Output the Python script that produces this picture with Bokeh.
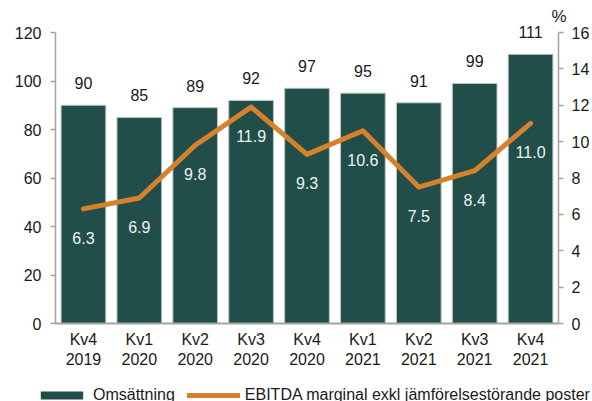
from bokeh.plotting import figure
from bokeh.layouts import column
from bokeh.models import (Range1d, LinearAxis, FactorRange, ColumnDataSource, Legend,
                          LegendItem, Title, FixedTicker)
from bokeh.core.properties import value
from bokeh.embed import file_html
from bokeh.resources import INLINE

quarters = ["Kv4\n2019", "Kv1\n2020", "Kv2\n2020", "Kv3\n2020", "Kv4\n2020",
            "Kv1\n2021", "Kv2\n2021", "Kv3\n2021", "Kv4\n2021"]
revenue = [90, 85, 89, 92, 97, 95, 91, 99, 111]
margin = [6.3, 6.9, 9.8, 11.9, 9.3, 10.6, 7.5, 8.4, 11.0]
rev_ticks = [0, 20, 40, 60, 80, 100, 120]
pct_ticks = [0, 2, 4, 6, 8, 10, 12, 14, 16]
series_names = ["Omsättning", "EBITDA marginal exkl jämförelsestörande poster"]
pct_unit = "%"

FONT = "Liberation Sans"
BAR = "#224E4A"
ORANGE = "#D6812B"
AX = "#a3a3a3"

REV_MAX, PCT_MAX = 120, 16
TOP = 25
HEADROOM = (323 - TOP) / 291  # frame extends above the axis top so labels above it stay visible

src = ColumnDataSource(dict(
    q=quarters, rev=revenue, pct=margin,
    rev_lbl=[str(v) for v in revenue],
    pct_lbl=[f"{v:.1f}" for v in margin],
))

p = figure(x_range=FactorRange(factors=quarters), y_range=Range1d(0, REV_MAX * HEADROOM),
           width=592, height=385, output_backend="svg", toolbar_location=None,
           min_border_left=55, min_border_right=30, min_border_top=TOP, min_border_bottom=62,
           frame_align=False)
p.extra_y_ranges = {"pct": Range1d(0, PCT_MAX * HEADROOM)}
p.xgrid.visible = False
p.ygrid.visible = False
p.outline_line_color = None
p.background_fill_color = "white"

bar_style = dict(fill_color=BAR, line_width=1)
line_style = dict(line_color=ORANGE, line_width=5, line_cap="round", line_join="round")

p.vbar(x="q", top="rev", width=0.8, source=src, line_color="#b9c9c7", **bar_style)
p.line(x="q", y="pct", y_range_name="pct", source=src, **line_style)

p.text(x="q", y="rev", text="rev_lbl", source=src, y_offset=-22, text_align="center",
       text_baseline="middle", text_font=value(FONT), text_font_size="16px",
       text_color="#1a1a1a")
p.text(x="q", y="pct", y_range_name="pct", text="pct_lbl", source=src, y_offset=29,
       text_align="center", text_baseline="middle", text_font=value(FONT),
       text_font_size="16px", text_color="#eef2f1")

p.yaxis[0].bounds = (0, REV_MAX)
right = LinearAxis(y_range_name="pct", bounds=(0, PCT_MAX))
p.add_layout(right, "right")

for ax in (p.yaxis[0], right):
    ax.axis_line_color = AX
    ax.axis_line_width = 1.5
    ax.major_tick_line_color = AX
    ax.major_tick_line_width = 1.5
    ax.major_tick_in = 0
    ax.major_tick_out = 5
    ax.minor_tick_line_color = None
    ax.major_label_text_font = FONT
    ax.major_label_text_font_size = "16px"
    ax.major_label_text_color = "#1a1a1a"
p.yaxis[0].ticker = FixedTicker(ticks=rev_ticks)
p.yaxis[0].major_label_standoff = 9
right.ticker = FixedTicker(ticks=pct_ticks)
right.major_label_standoff = 8

xa = p.xaxis[0]
xa.axis_line_color = AX
xa.axis_line_width = 2
xa.major_tick_line_color = None
xa.major_tick_out = 0
xa.major_tick_in = 0
xa.major_label_standoff = 7
xa.major_label_text_font = FONT
xa.major_label_text_font_size = "16px"
xa.major_label_text_color = "#1a1a1a"

# unit label above the right axis
p.add_layout(Title(text=pct_unit, align="right", offset=-8, standoff=0,
                   text_font=FONT, text_font_size="17px", text_font_style="normal",
                   text_color="#1a1a1a"), "above")

# legend strip underneath (its own small canvas so the legend is not clipped);
# its renderers share the data but lie far outside that strip's view
lg = figure(x_range=FactorRange(factors=quarters), y_range=Range1d(1000, 1001),
            width=592, height=16, output_backend="svg", toolbar_location=None,
            x_axis_type=None, y_axis_type=None, min_border_left=0, min_border_right=0,
            min_border_top=0, min_border_bottom=0, frame_align=False)
lg.outline_line_color = None
lg.xgrid.visible = False
lg.ygrid.visible = False
lbar = lg.vbar(x="q", top="rev", width=0.8, source=src, line_color=None, **bar_style)
lline = lg.line(x="q", y="pct", source=src, **line_style)
legend = Legend(items=[LegendItem(label=series_names[0], renderers=[lbar]),
                       LegendItem(label=series_names[1], renderers=[lline])],
                orientation="horizontal", location=(35, -3), glyph_width=53,
                glyph_height=10, label_standoff=5, spacing=12, padding=0, margin=0,
                border_line_color=None, background_fill_alpha=0,
                label_text_font=FONT, label_text_font_size="16px",
                label_text_color="#1a1a1a")
lg.add_layout(legend, "center")

layout = column(p, lg, spacing=0)
open("out.html", "w").write(file_html(layout, INLINE))
